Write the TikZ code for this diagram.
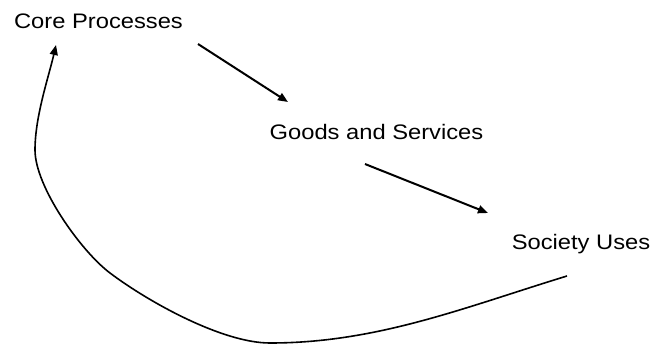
\documentclass[tikz,border=0pt]{standalone}
\usepackage{fontspec}
\setmainfont{Liberation Sans}[FakeStretch=1.13]
\usetikzlibrary{arrows.meta}
\begin{document}
\begin{tikzpicture}[x=1pt,y=-1pt,
  lbl/.style={anchor=base,inner sep=0pt,font=\fontsize{21}{25}\selectfont},
  arr/.style={line width=2pt,-{Triangle[length=10pt,width=8pt]}},
  loop/.style={line width=1.6pt,-{Triangle[length=10pt,width=8pt]}}]
\useasboundingbox (0,0) rectangle (667,346);
\node[lbl] (cp) at (98.5,28.3) {Core Processes};
\node[lbl] (gs) at (376.5,139) {Goods and Services};
\node[lbl] (su) at (581,249) {Society Uses};
\coordinate (a1s) at (198,44);
\coordinate (a1e) at (288,102);
\coordinate (a2s) at (365,164);
\coordinate (a2e) at (488,213);
\draw[arr] (a1s) -- (a1e);
\draw[arr] (a2s) -- (a2e);
\coordinate (l0) at (567,276);
\coordinate (lb) at (270,343);
\coordinate (lm) at (110,273);
\coordinate (ll) at (35,150);
\coordinate (lt) at (56,45);
\draw[loop] (l0) to[out=197,in=0,looseness=0.9] (lb)
  to[out=180,in=-37,looseness=0.7] (lm)
  to[out=143,in=-90,looseness=0.65] (ll)
  to[out=90,in=-103,looseness=0.8] (lt);
\end{tikzpicture}
\end{document}
